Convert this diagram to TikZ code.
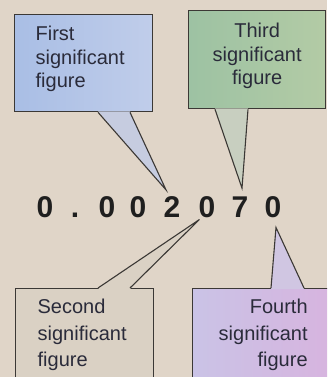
\documentclass[tikz,border=0pt]{standalone}
\usepackage{fontspec}
\setmainfont{Liberation Sans}
\usepackage{xcolor}
\definecolor{paper}{HTML}{E0D5C8}
\definecolor{edge}{HTML}{3B3835}
\definecolor{ink}{HTML}{2A2B3A}
\definecolor{blueL}{HTML}{A9BEE5}
\definecolor{blueR}{HTML}{C0CDEA}
\definecolor{blueT}{HTML}{C6CCE0}
\definecolor{greenL}{HTML}{9DC2A3}
\definecolor{greenR}{HTML}{B3CBA5}
\definecolor{greenT}{HTML}{C8CFC0}
\definecolor{tanbox}{HTML}{DAD1C4}
\definecolor{violetL}{HTML}{CAC3E6}
\definecolor{violetR}{HTML}{D7B4DF}
\definecolor{violetT}{HTML}{D0C6E2}
\usetikzlibrary{calc}

\begin{document}
\begin{tikzpicture}[x=1pt, y=-1pt,
    box/.style={draw=edge, line width=1.3pt, anchor=north west, inner ysep=0pt, text=ink, font=\fontsize{20}{23.5}\selectfont},
    cb/.style={box, left color=blueL, right color=blueR, inner xsep=21pt, text width=96pt, align=left, text height=26pt, text depth=71pt},
    cg/.style={box, left color=greenL, right color=greenR, inner xsep=18.5pt, text width=100pt, align=center, text height=27pt, text depth=71pt},
    ct/.style={box, fill=tanbox, inner xsep=22pt, text width=94pt, align=left, text height=25pt, text depth=87pt, font=\fontsize{20}{26.5}\selectfont},
    cv/.style={box, left color=violetL, right color=violetR, inner xsep=23pt, text width=92pt, align=right, text height=25pt, text depth=87pt, font=\fontsize{20}{26.5}\selectfont},
    dg/.style={anchor=base, inner sep=0pt, text=black!88, font=\fontsize{30}{36}\selectfont\bfseries},
    tail/.style={draw=edge, line width=1.1pt, line join=miter}
]
\fill[paper] (0,0) rectangle (327,377);
\useasboundingbox (0,0) rectangle (327,377);
\clip (0,0) rectangle (327,377);

% Number
\foreach \c/\x [count=\i] in {0/45, ./75, 0/107, 0/138, 2/172, 0/207, 7/240, 0/273}
    \node[dg] (d\i) at (\x, 217) {\c};

% Callouts
\node[cb] (first) at (14, 14) {First\\significant\\figure};
\node[cg] (third) at (188, 10) {Third\\significant\\figure};
\node[ct] (second) at (15, 288) {Second\\significant\\figure};
\node[cv] (fourth) at (192, 288) {Fourth\\significant\\figure};

% Tips
\coordinate (t1) at ($(d5.north)+(-6,-6)$);
\coordinate (t3) at ($(d7.north)+(2,-8)$);
\coordinate (t2) at ($(d6.south west)+(1,2)$);
\coordinate (t4) at ($(d8.south)+(3,10)$);

% Tails
\fill[blueT] ($(first.south west)+(84,-1)$) -- (t1) -- ($(first.south west)+(116,-1)$) -- cycle;
\draw[tail] ($(first.south west)+(84,0)$) -- (t1) -- ($(first.south west)+(116,0)$);

\fill[greenT] ($(third.south west)+(27,-1)$) -- (t3) -- ($(third.south west)+(60,-1)$) -- cycle;
\draw[tail] ($(third.south west)+(27,0)$) -- (t3) -- ($(third.south west)+(60,0)$);

\fill[tanbox] ($(second.north west)+(83,1)$) -- (t2) -- ($(second.north west)+(115,1)$) -- cycle;
\draw[tail] ($(second.north west)+(83,0)$) -- (t2) -- ($(second.north west)+(115,0)$);

\fill[violetT] ($(fourth.north west)+(79,1)$) -- (t4) -- ($(fourth.north west)+(112,1)$) -- cycle;
\draw[tail] ($(fourth.north west)+(79,0)$) -- (t4) -- ($(fourth.north west)+(112,0)$);

\end{tikzpicture}
\end{document}
